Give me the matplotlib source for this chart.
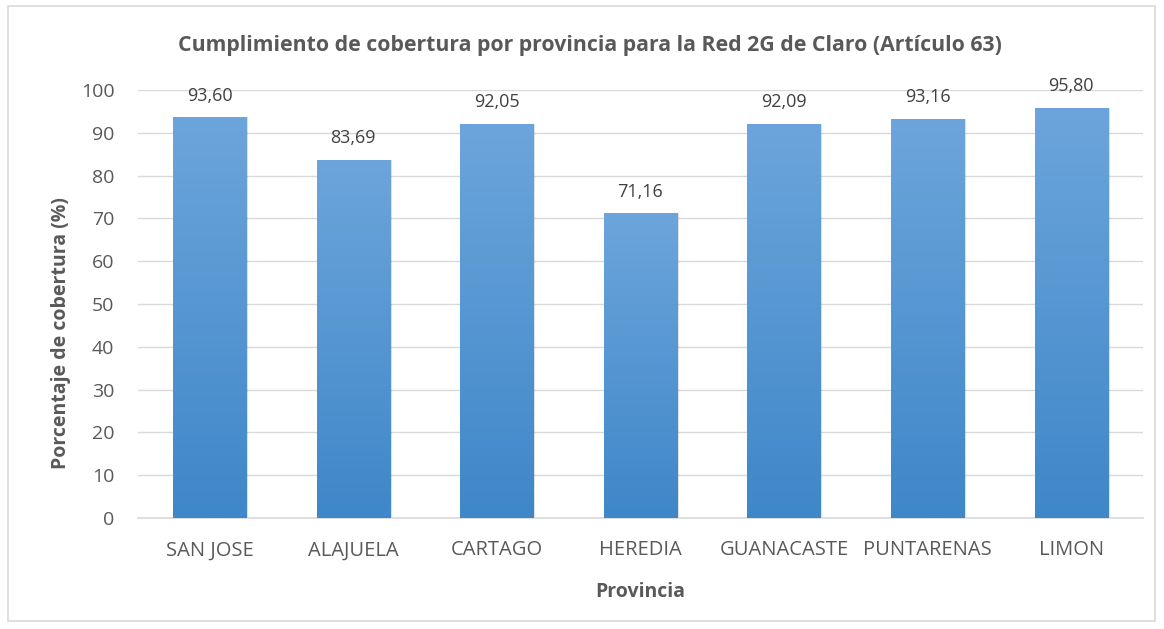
import numpy as np
import matplotlib.pyplot as plt
from matplotlib.colors import LinearSegmentedColormap
from matplotlib.patches import Rectangle

provincias = ['SAN JOSE', 'ALAJUELA', 'CARTAGO', 'HEREDIA',
              'GUANACASTE', 'PUNTARENAS', 'LIMON']
cobertura = [93.60, 83.69, 92.05, 71.16, 92.09, 93.16, 95.80]
etiquetas = ['93,60', '83,69', '92,05', '71,16', '92,09', '93,16', '95,80']
y_ticks = list(range(0, 101, 10))

plt.rcParams['font.family'] = ['Open Sans', 'DejaVu Sans']
gris = '#595959'

fig = plt.figure(figsize=(11.64, 6.29), dpi=100)
ax = fig.add_axes([138 / 1164, 1 - 518 / 629, 1005 / 1164, 428 / 629])

# marco exterior tipo Excel
fig.patches.append(Rectangle((8 / 1164, 1 - 621 / 629), 1147 / 1164, 615 / 629,
                             transform=fig.transFigure, fill=False,
                             edgecolor='#D9D9D9', linewidth=1.2))

x = np.arange(len(provincias))
ancho = 0.51
cmap = LinearSegmentedColormap.from_list('azul', ['#3F87C9', '#6CA5DB'])
grad = np.linspace(0, 1, 256).reshape(-1, 1)

bars = ax.bar(x, cobertura, width=ancho, color='none', zorder=3)
for b, val, txt in zip(bars, cobertura, etiquetas):
    x0 = b.get_x()
    # sombra ligera
    ax.add_patch(Rectangle((x0 + 0.012, 0), ancho, val, facecolor='#000000',
                           alpha=0.12, edgecolor='none', zorder=2))
    im = ax.imshow(grad, cmap=cmap, aspect='auto', origin='lower',
                   extent=(x0, x0 + ancho, 0, val), zorder=3)
    im.set_clip_path(b)
    ax.text(b.get_x() + ancho / 2, val + 3.0, txt, ha='center', va='bottom',
            fontsize=13, color='#404040')

ax.set_xlim(-0.5, len(provincias) - 0.5)
ax.set_ylim(0, 100)
ax.set_yticks(y_ticks)
ax.set_xticks(x)
ax.set_xticklabels(provincias)
ax.tick_params(axis='both', length=0, colors=gris)
ax.tick_params(axis='y', pad=17, labelsize=14)
ax.tick_params(axis='x', pad=16, labelsize=14.5)
ax.grid(axis='y', color='#D9D9D9', linewidth=1, zorder=0)
ax.set_axisbelow(True)
for s in ['top', 'right', 'left']:
    ax.spines[s].set_visible(False)
ax.spines['bottom'].set_color('#D9D9D9')
ax.spines['bottom'].set_linewidth(1.2)

ax.set_xlabel('Provincia', fontsize=14, fontweight='bold', color=gris, labelpad=16)
fig.text(61 / 1164, 1 - 333 / 629, 'Porcentaje de cobertura (%)', rotation=90,
         ha='center', va='center', fontsize=14, fontweight='bold', color=gris)
fig.text(590 / 1164, 1 - 45 / 629,
         'Cumplimiento de cobertura por provincia para la Red 2G de Claro (Artículo 63)',
         ha='center', va='center', fontsize=15.3, fontweight='bold', color=gris)

fig.savefig('out.png', dpi=100)
